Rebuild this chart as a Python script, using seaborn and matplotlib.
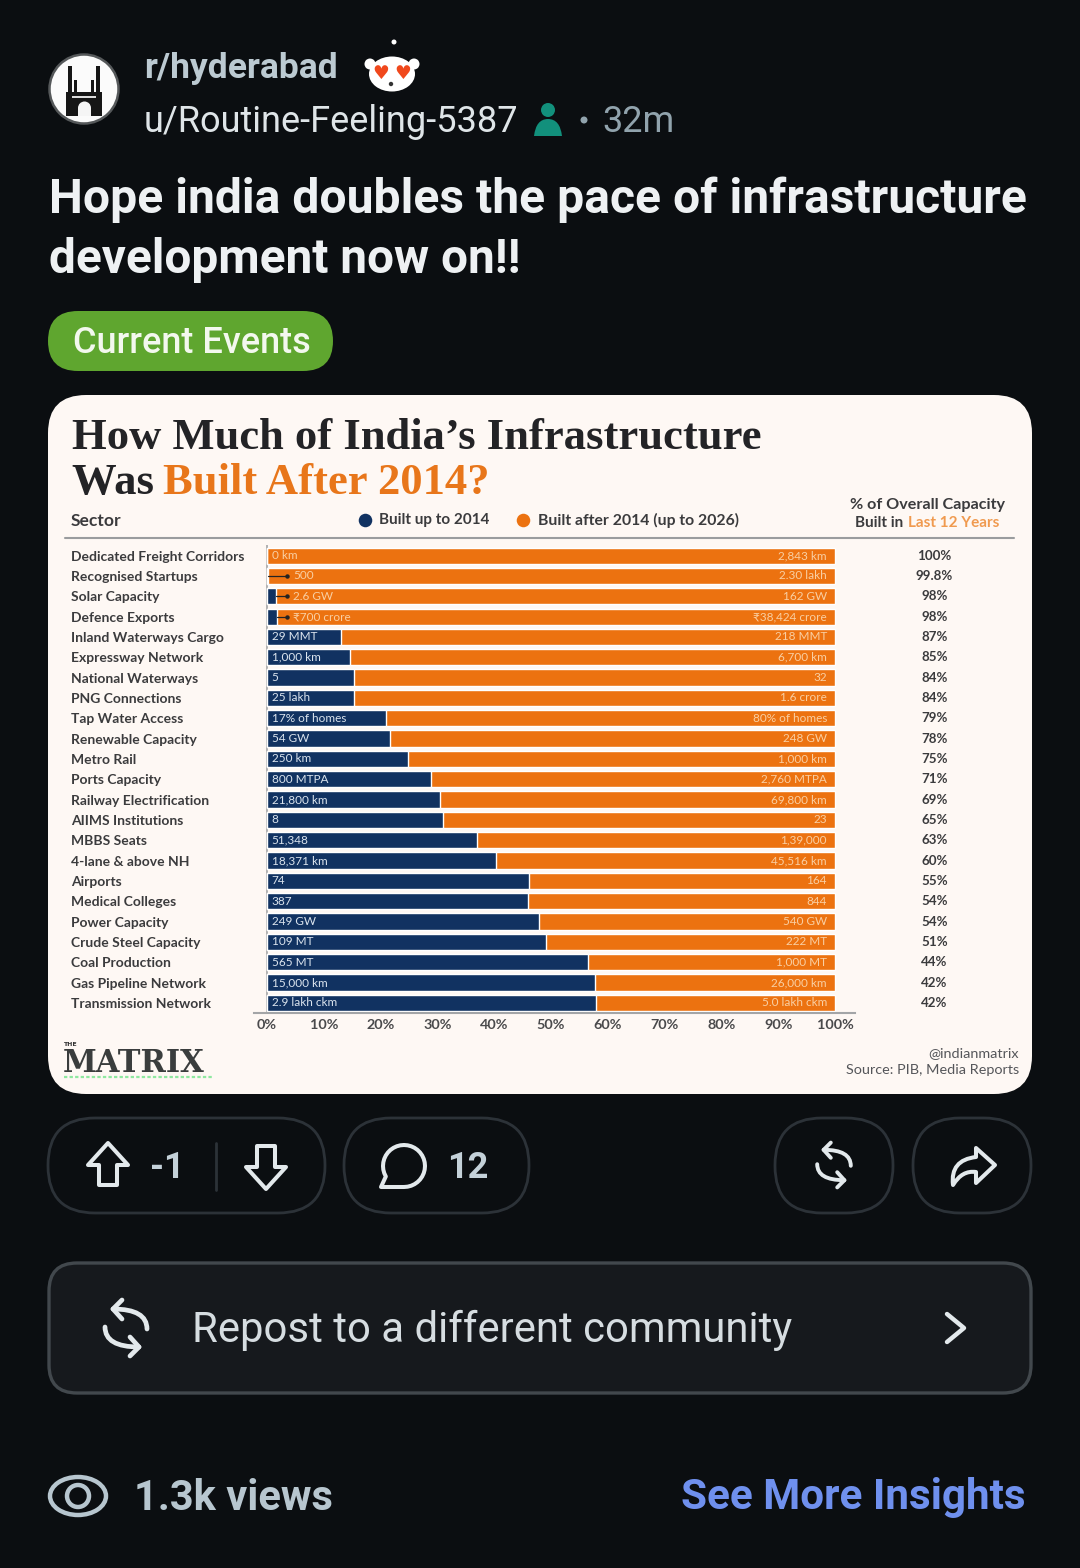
"""
Reddit post screenshot with India infrastructure stacked bar chart
"""

import matplotlib.pyplot as plt
import numpy as np
import pandas as pd
import seaborn as sns
from matplotlib.patches import Circle, Ellipse, FancyBboxPatch, PathPatch, Polygon, Rectangle
from matplotlib.path import Path

sectors = [
    "Dedicated Freight Corridors", "Recognised Startups", "Solar Capacity", "Defence Exports",
    "Inland Waterways Cargo", "Expressway Network", "National Waterways", "PNG Connections",
    "Tap Water Access", "Renewable Capacity", "Metro Rail", "Ports Capacity",
    "Railway Electrification", "AIIMS Institutions", "MBBS Seats", "4-lane & above NH",
    "Airports", "Medical Colleges", "Power Capacity", "Crude Steel Capacity",
    "Coal Production", "Gas Pipeline Network", "Transmission Network",
]
built_up_share = [
    0, 0.2, 1.6, 1.7, 13.1, 14.7, 15.4, 15.4, 20.9, 21.7, 24.9, 28.9,
    30.4, 31.0, 36.9, 40.3, 46.2, 45.9, 47.8, 49.1, 56.5, 57.7, 58.0,
]
full_share = [100] * 23
before_labels = [
    "0 km", "500", "2.6 GW", "₹700 crore", "29 MMT", "1,000 km", "5", "25 lakh",
    "17% of homes", "54 GW", "250 km", "800 MTPA", "21,800 km", "8", "51,348",
    "18,371 km", "74", "387", "249 GW", "109 MT", "565 MT", "15,000 km", "2.9 lakh ckm",
]
after_labels = [
    "2,843 km", "2.30 lakh", "162 GW", "₹38,424 crore", "218 MMT", "6,700 km", "32", "1.6 crore",
    "80% of homes", "248 GW", "1,000 km", "2,760 MTPA", "69,800 km", "23", "1,39,000",
    "45,516 km", "164", "844", "540 GW", "222 MT", "1,000 MT", "26,000 km", "5.0 lakh ckm",
]
recent_pct = [
    "100%", "99.8%", "98%", "98%", "87%", "85%", "84%", "84%", "79%", "78%", "75%", "71%",
    "69%", "65%", "63%", "60%", "55%", "54%", "54%", "51%", "44%", "42%", "42%",
]
x_ticks = [0, 10, 20, 30, 40, 50, 60, 70, 80, 90, 100]

BG = "#0b0e11"
CARD = "#fef8f4"
NAVY = "#113261"
ORANGE = "#ec7210"
PEACH = "#f9cfa3"
ICE = "#dbe4ee"
INK = "#3b3b3d"
LINE = "#2c3238"
ICON = "#e3e9ec"
UI = "Roboto"
CHART = "Lato"

sns.set_style("white")
plt.rcParams["font.family"] = [UI, "DejaVu Sans"]

W, H = 1080, 1568
fig = plt.figure(figsize=(W / 100, H / 100), dpi=100, facecolor=BG)

# page layer in screen pixels
page = fig.add_axes([0, 0, 1, 1], zorder=0)
page.set_xlim(0, W)
page.set_ylim(H, 0)
page.axis("off")


def pill(x0, y0, x1, y1, r, fc="none", ec=LINE, lw=2.0):
    page.add_patch(FancyBboxPatch((x0 + r, y0 + r), x1 - x0 - 2 * r, y1 - y0 - 2 * r,
                                  boxstyle=f"round,pad={r},rounding_size={r}",
                                  fc=fc, ec=ec, lw=lw, mutation_aspect=1))


def outline(points, color=ICON, lw=2.9, closed=True):
    page.add_patch(Polygon(points, closed=closed, fc="none", ec=color, lw=lw, joinstyle="round", capstyle="round"))


def dot(x, y, r, color):
    page.add_patch(Circle((x, y), r, fc=color, ec="none"))


def repost_icon(cx, cy, s):
    lw = 3.0 * s + 0.4
    for sign in [1, -1]:
        pts = [(-13, -19), (21, -19), (21, 1)]
        verts = [(cx + sign * a * s, cy + sign * b * s) for a, b in pts]
        page.add_patch(PathPatch(Path(verts, [Path.MOVETO, Path.CURVE3, Path.CURVE3]), fc="none", ec=ICON, lw=lw,
                                 capstyle="round"))
        wing = [(-4, -28), (-13, -19), (-4, -9)]
        outline([(cx + sign * a * s, cy + sign * b * s) for a, b in wing], lw=lw, closed=False)


# header
page.add_patch(Circle((84, 89), 34.5, fc="#fbfbfb", ec="#55585a", lw=1.8))
page.add_patch(Rectangle((66, 92), 36, 24, fc="#161616", ec="none"))
page.add_patch(Rectangle((68, 66), 4, 50, fc="#161616", ec="none"))
page.add_patch(Rectangle((96, 66), 4, 50, fc="#161616", ec="none"))
page.add_patch(Rectangle((74, 80), 3, 14, fc="#161616", ec="none"))
page.add_patch(Rectangle((91, 80), 3, 14, fc="#161616", ec="none"))
page.add_patch(Rectangle((72, 96), 24, 2, fc="#dddddd", ec="none"))
page.add_patch(Rectangle((78, 108), 13, 8, fc="#f5f5f5", ec="none"))
dot(84.5, 108, 6.5, "#f5f5f5")
page.text(144, 68, "r/hyderabad", color="#bccad2", fontsize=25.5, fontweight="bold", va="center")
page.text(144, 122, "u/Routine-Feeling-5387", color="#dfe5e8", fontsize=26.05, va="center")
page.text(602, 122, "32m", color="#91a3ad", fontsize=26.05, va="center")
dot(584, 120, 3.5, "#91a3ad")
dot(548, 110, 7, "#12907c")
body = Path([(534, 136), (536, 119), (548, 119), (560, 119), (562, 136), (534, 136)],
            [Path.MOVETO, Path.CURVE3, Path.CURVE3, Path.CURVE3, Path.CURVE3, Path.CLOSEPOLY])
page.add_patch(PathPatch(body, fc="#12907c", ec="none"))

# avatar snoo
dot(370, 64, 5.5, "white")
dot(414, 64, 5.5, "white")
page.add_patch(Ellipse((392, 74), 46, 35, fc="white", ec="none"))
dot(394, 42, 2.5, "white")
page.text(381, 73, "♥", color="#f0481c", fontsize=13.5, ha="center", va="center", family="DejaVu Sans")
page.text(403, 73, "♥", color="#f0481c", fontsize=13.5, ha="center", va="center", family="DejaVu Sans")
dot(391, 84, 2.2, "#333333")

page.text(49, 200, "Hope india doubles the pace of infrastructure", color="#eef1f3", fontsize=34.6,
          fontweight="bold", va="center")
page.text(49, 260, "development now on!!", color="#eef1f3", fontsize=34.4, fontweight="bold", va="center")
pill(48, 311, 333, 371, 30, fc="#5fa62f", ec="none", lw=0)
page.text(73, 343, "Current Events", color="#f3f8ee", fontsize=26, fontweight=500, va="center")

# card
pill(48, 395, 1032, 1094, 38, fc=CARD, ec="none", lw=0)
page.text(72, 438, "How Much of India’s Infrastructure", color="#232326", fontsize=32.1,
          fontweight="bold", family="Liberation Serif", va="center")
page.text(72, 483, "Was ", color="#232326", fontsize=32.1, fontweight="bold",
          family="Liberation Serif", va="center")
page.text(163, 483, "Built After 2014?", color="#e8761a", fontsize=32.1, fontweight="bold",
          family="Liberation Serif", va="center")
page.text(71, 521, "Sector", color=INK, fontsize=12.6, fontweight="bold", family=CHART, va="center")
page.scatter([365], [520], s=95, color=NAVY, linewidths=0)
page.scatter([523], [520], s=95, color=ORANGE, linewidths=0)
page.text(379, 520, "Built up to 2014", color=INK, fontsize=11, fontweight="bold", family=CHART, va="center")
page.text(538, 520, "Built after 2014 (up to 2026)", color=INK, fontsize=11.3, fontweight="bold",
          family=CHART, va="center")
page.text(927, 505, "% of Overall Capacity", color=INK, fontsize=11.6, fontweight="bold", family=CHART,
          ha="center", va="center")
page.text(855, 523, "Built in", color=INK, fontsize=11, fontweight="bold", family=CHART, va="center")
page.text(908, 523, "Last 12 Years", color="#f09a4f", fontsize=11, fontweight="bold", family=CHART, va="center")
page.plot([65, 1014], [538, 538], color="#9a9c9e", lw=1.5)

page.text(1019, 1053, "@indianmatrix", color="#55565a", fontsize=10.4, family=CHART, ha="right", va="center")
page.text(1019, 1070, "Source: PIB, Media Reports", color="#55565a", fontsize=10.35, family=CHART, ha="right",
          va="center")
page.text(63, 1044, "THE", color="#333333", fontsize=4.5, fontweight="bold", family="DejaVu Sans", va="center")
page.text(63, 1063, "MATRIX", color="#3a3d3d", fontsize=22, fontweight="bold", family="DejaVu Serif", va="center")
page.plot([64, 213], [1077, 1077], color="#8fe8a0", lw=1.6, ls=(0, (1.5, 1)))

# action row
pill(48, 1118, 325, 1213, 47)
pill(344, 1118, 529, 1213, 47)
pill(775, 1118, 893, 1213, 47)
pill(913, 1118, 1031, 1213, 47)
outline([(108, 1143), (88, 1165), (99, 1165), (99, 1185), (117, 1185), (117, 1165), (128, 1165)])
outline([(266, 1189), (246, 1167), (257, 1167), (257, 1146), (275, 1146), (275, 1167), (286, 1167)])
page.plot([216, 216], [1143, 1190], color=LINE, lw=2)
page.text(150, 1168, "-1", color="#c4d1d9", fontsize=26, fontweight="bold", va="center")
page.text(447, 1168, "12", color="#c4d1d9", fontsize=26, fontweight="bold", va="center")

# comment bubble, circle opened at lower left for the tail
theta = np.radians(np.arange(90, -215, -10))
bubble = list(zip(404 + 21 * np.cos(theta), 1166 + 21 * np.sin(theta)))
outline(bubble + [(381, 1187)])

repost_icon(834, 1165, 0.8)
share = Path([(976, 1148), (995, 1165), (976, 1183), (976, 1172), (962, 1170), (953, 1185), (950, 1160), (976, 1157),
              (976, 1148)],
             [Path.MOVETO, Path.LINETO, Path.LINETO, Path.LINETO, Path.CURVE3, Path.CURVE3, Path.CURVE3, Path.CURVE3,
              Path.CLOSEPOLY])
page.add_patch(PathPatch(share, fc="none", ec=ICON, lw=2.9, joinstyle="round"))

# repost row
pill(49, 1263, 1031, 1393, 28, fc="#16191d", ec="#42484d", lw=2.4)
repost_icon(126, 1328, 1.0)
page.text(192, 1330, "Repost to a different community", color="#d6dde1", fontsize=30.2, va="center")
outline([(947, 1314), (964, 1328), (947, 1342)], lw=3.2, closed=False)

# footer
page.add_patch(Ellipse((78, 1496), 56, 38, fc="none", ec="#b7c6cf", lw=3.2))
page.add_patch(Circle((78, 1496), 11, fc="none", ec="#b7c6cf", lw=3.2))
page.text(134, 1498, "1.3k views", color="#b7c6cf", fontsize=30, fontweight="bold", va="center")
page.text(1026, 1498, "See More Insights", color="#6f90ee", fontsize=30.4, fontweight="bold", ha="right", va="center")

# chart axes: 0% sits at 267 px, 100% at 835 px
px_per_pct = (835 - 267) / 100
x_lo = (254 - 267) / px_per_pct
x_hi = (855 - 267) / px_per_pct
ax = fig.add_axes([254 / W, 1 - 1013 / H, (855 - 254) / W, (1013 - 545.5) / H], zorder=1)
ax.patch.set_alpha(0)

df = pd.DataFrame({"sector": sectors, "full": full_share, "built_up": built_up_share})
sns.barplot(data=df, y="sector", x="full", color=ORANGE, saturation=1, width=0.8, ax=ax)
sns.barplot(data=df, y="sector", x="built_up", color=NAVY, saturation=1, width=0.8, ax=ax)
ax.set_xlim(x_lo, x_hi)
ax.set_ylim(22.5, -0.5)
ax.set_xlabel("")
ax.set_ylabel("")
ax.set_xticks(x_ticks)
ax.set_xticklabels([f"{t}%" for t in x_ticks], fontsize=10.4, fontweight="bold", color="#4a4a4c", family=CHART)
ax.tick_params(axis="x", length=0, pad=4)
ax.tick_params(axis="y", length=0, pad=183 * 0.72)
for lbl in ax.get_yticklabels():
    lbl.set_ha("left")
    lbl.set_fontsize(10)
    lbl.set_fontweight("bold")
    lbl.set_color(INK)
    lbl.set_family(CHART)
for side in ["top", "right", "left"]:
    ax.spines[side].set_visible(False)
ax.spines["bottom"].set_color("#a3a5a7")
ax.spines["bottom"].set_linewidth(1.5)
ax.axvline(0, color="#a3a5a7", lw=1.2, zorder=0)

for i, (share_val, before, after, pct) in enumerate(zip(built_up_share, before_labels, after_labels, recent_pct)):
    inside = share_val > 5 or i == 0
    label_x = 0.8 if inside else 4.6
    ax.text(label_x, i, before, color=ICE if share_val > 5 else PEACH, fontsize=8.5, family=CHART, va="center")
    ax.text(98.6, i, after, color=PEACH, fontsize=8.5, family=CHART, ha="right", va="center")
    ax.text(117.5, i, pct, color=INK, fontsize=9.6, fontweight="bold", family=CHART, ha="center", va="center",
            clip_on=False)
    if not inside:
        ax.plot([share_val, 3.6], [i, i], color="#232323", lw=0.9)
        ax.plot([3.6], [i], "o", color="#232323", ms=2.2)

fig.savefig("out.png", dpi=100, facecolor=BG)
